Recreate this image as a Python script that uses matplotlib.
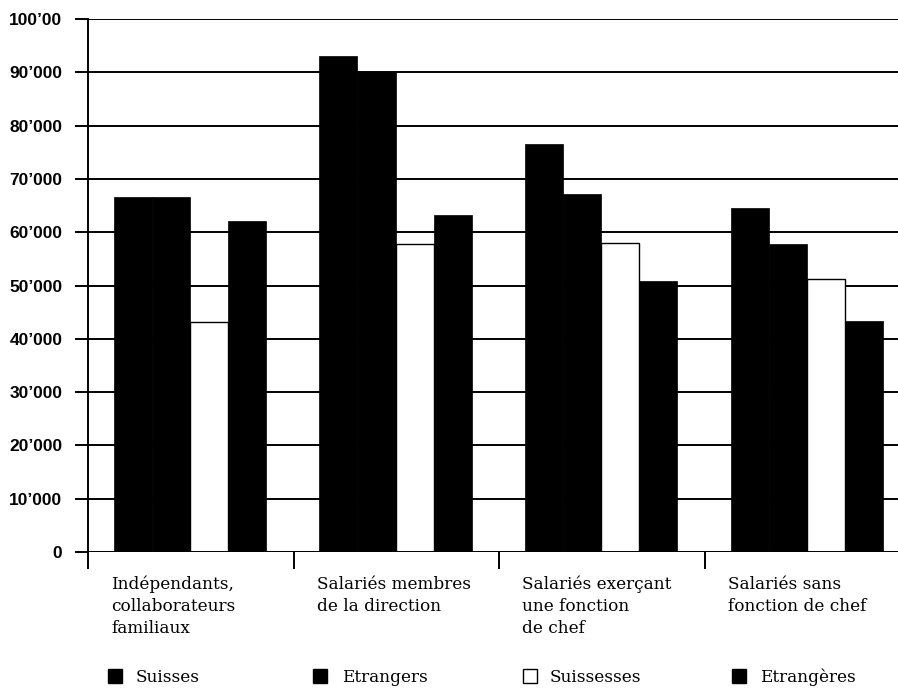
import matplotlib
matplotlib.use("Agg")
import matplotlib.pyplot as plt
import numpy as np
from matplotlib.patches import Rectangle

# Revenu annuel moyen par situation dans la profession
categories = [
    "Indépendants,\ncollaborateurs\nfamiliaux",
    "Salariés membres\nde la direction",
    "Salariés exerçant\nune fonction\nde chef",
    "Salariés sans\nfonction de chef",
]
series_names = ["Suisses", "Etrangers", "Suissesses", "Etrangères"]
suisses = [66600, 93000, 76500, 64500]
etrangers = [66600, 90000, 67200, 57800]
suissesses = [43100, 57800, 57900, 51200]
etrangeres = [62100, 63300, 50800, 43300]
series_values = [suisses, etrangers, suissesses, etrangeres]
series_colors = ["black", "black", "white", "black"]

yticks = np.arange(0, 100001, 10000)
ytick_labels = ["0", "10’000", "20’000", "30’000", "40’000", "50’000",
                "60’000", "70’000", "80’000", "90’000", "100’00"]

serif = "DejaVu Serif"
label_size = 12.2

fig = plt.figure(figsize=(8.98, 6.89), dpi=100)
ax = fig.add_axes([88 / 898, 137 / 689, 810 / 898, 533 / 689])

bar_w = 0.185
first_center = 0.2175
groups = np.arange(len(categories))

# horizontal rules behind the bars
for y in yticks:
    ax.axhline(y, color="black", lw=1.4, zorder=1)

for i, (vals, col) in enumerate(zip(series_values, series_colors)):
    x = groups + first_center + i * bar_w
    if col == "white":
        ax.bar(x, vals, width=bar_w, color="white", edgecolor="black",
               linewidth=1.0, zorder=2)
    else:
        ax.bar(x, vals, width=bar_w, color="black", edgecolor="black",
               linewidth=0.5, zorder=2)

ax.axhline(0, color="black", lw=1.4, zorder=3)

ax.set_xlim(0, 810 / 205.7)
ax.set_ylim(0, 100000)
for s in ["top", "right", "bottom"]:
    ax.spines[s].set_visible(False)
ax.spines["left"].set_linewidth(1.4)
ax.spines["left"].set_zorder(4)

ax.set_yticks(yticks)
ax.set_yticklabels(ytick_labels, fontsize=12.5, fontweight="bold",
                   family="Liberation Sans")
ax.tick_params(axis="y", length=9.5, width=1.4, pad=9)

ax.set_xticks(groups)
ax.set_xticklabels([])
ax.tick_params(axis="x", length=12, width=1.4)

# category names, left aligned under the first bar of each group
for g, label in zip(groups, categories):
    ax.text(g + 0.112, -0.045, label, transform=ax.get_xaxis_transform(),
            ha="left", va="top", fontsize=label_size, family=serif,
            linespacing=1.38)

# legend row along the bottom
leg_box_x = [108, 313, 523, 732]
leg_text_x = [136, 342, 550, 760]
for name, col, bx, tx in zip(series_names, series_colors, leg_box_x, leg_text_x):
    fig.add_artist(Rectangle((bx / 898, 6 / 689), 14 / 898, 14 / 689,
                             transform=fig.transFigure, facecolor=col,
                             edgecolor="black", lw=1.0))
    fig.text(tx / 898, 12 / 689, name, ha="left", va="center",
             fontsize=label_size, family=serif)

fig.savefig("out.png", dpi=100)
